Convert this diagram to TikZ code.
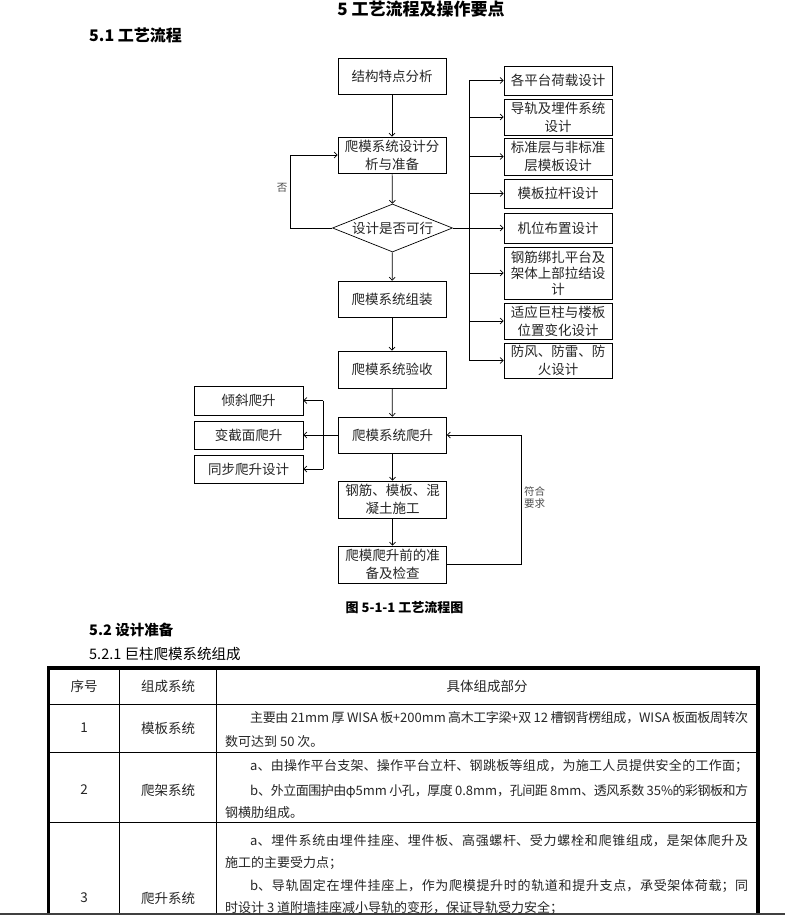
\documentclass[tikz,border=0pt]{standalone}
\usepackage{fontspec}
\setmainfont{Noto Sans CJK SC}
\usetikzlibrary{arrows.meta,shapes.geometric}
\XeTeXlinebreaklocale "zh"
\XeTeXlinebreakskip=0pt plus 4pt minus 0.8pt
\newcommand\fz[2]{\fontsize{#1}{#2}\selectfont}
\newcommand\jtext[2]{\vbox{\hsize=#1pt\parindent=0pt\parfillskip=0pt\leftskip=0pt\rightskip=0pt\tolerance=9999\emergencystretch=20pt #2\par}}
\begin{document}
\begin{tikzpicture}[x=1pt,y=-1pt,
  box/.style={draw, line width=0.7pt, inner sep=0pt, align=center, minimum width=108pt, text=black!85, font=\fz{13.5}{18}},
  arr/.style={-{Straight Barb[length=3pt,width=6pt]}, line width=0.7pt},
  ln/.style={line width=0.7pt},
  lab/.style={inner sep=0pt, text=black!70, font=\fz{10.5}{12}, align=left},
  head/.style={inner sep=0pt, text=black, anchor=west},
  cell/.style={inner sep=0pt, text=black!85, font=\fz{13.5}{16}},
  jl/.style={inner sep=0pt, text=black!85, font=\fz{13}{16}, anchor=west},
  thick border/.style={line width=3.5pt},
  thin rule/.style={line width=0.8pt}]
\fill[white] (0,0) rectangle (785,917);
\useasboundingbox (0,0) rectangle (785,917);

% headings
\node[inner sep=0pt, font=\fz{17}{19}\bfseries] (title) at (421,9) {5\ 工艺流程及操作要点};
\node[head, font=\fz{16}{18}\bfseries] (h51) at (89,35) {5.1 工艺流程};

% main column
\node[box, minimum height=36pt] (n1) at (392,76) {结构特点分析};
\node[box, minimum height=36pt] (n2) at (392,155) {爬模系统设计分\\析与准备};
\node[box, shape=diamond, aspect=2.5, minimum width=120pt, minimum height=48pt] (d) at (392.5,228) {设计是否可行};
\node[box, minimum height=36pt] (n3) at (392,299) {爬模系统组装};
\node[box, minimum height=37pt] (n4) at (392,369.5) {爬模系统验收};
\node[box, minimum height=36pt] (n5) at (392.5,435) {爬模系统爬升};
\node[box, minimum height=37pt] (n6) at (392.5,499.5) {钢筋、模板、混\\凝土施工};
\node[box, minimum height=37pt] (n7) at (392.5,564.5) {爬模爬升前的准\\备及检查};

% right column
\node[box, minimum height=29pt] (r1) at (558,80.5) {各平台荷载设计};
\node[box, minimum height=36pt] (r2) at (558,117) {导轨及埋件系统\\设计};
\node[box, minimum height=37pt] (r3) at (558,156.5) {标准层与非标准\\层模板设计};
\node[box, minimum height=29pt] (r4) at (558,193.5) {模板拉杆设计};
\node[box, minimum height=30pt] (r5) at (558,228) {机位布置设计};
\node[box, minimum height=52pt, font=\fz{13.5}{16}] (r6) at (558,273) {钢筋绑扎平台及\\架体上部拉结设\\计};
\node[box, minimum height=36pt] (r7) at (558,321) {适应巨柱与楼板\\位置变化设计};
\node[box, minimum height=35pt] (r8) at (558,360.5) {防风、防雷、防\\火设计};

% left column
\node[box, minimum width=109pt, minimum height=29pt] (l1) at (248.5,400.5) {倾斜爬升};
\node[box, minimum width=109pt, minimum height=28pt] (l2) at (248.5,435) {变截面爬升};
\node[box, minimum width=109pt, minimum height=28pt] (l3) at (248.5,469) {同步爬升设计};

% helper coordinates
\coordinate (rt) at (469,0);
\coordinate (lt) at (323,0);
\coordinate (no) at (290,0);
\coordinate (ok) at (521,0);

% main arrows
\draw[arr] (n1) -- (n2);
\draw[arr] (n2) -- (d);
\draw[arr] (d) -- (n3);
\draw[arr] (n3) -- (n4);
\draw[arr] (n4) -- (n5);
\draw[arr] (n5) -- (n6);
\draw[arr] (n6) -- (n7);

% no loop
\draw[arr] (d.west) -- (d.west -| no) -- (n2.west -| no) -- (n2.west);
\node[lab] (nolab) at (282,188) {否};

% right trunk
\draw[ln] (r1.west -| rt) -- (r8.west -| rt);
\draw[arr] (d.east) -- (r5.west);
\foreach \r in {r1,r2,r3,r4,r6,r7,r8} {\draw[arr] (\r.west -| rt) -- (\r.west);}

% left branch
\draw[arr] (n5.west) -- (l2.east);
\draw[ln] (l1.east -| lt) -- (l3.east -| lt);
\draw[arr] (l1.east -| lt) -- (l1.east);
\draw[arr] (l3.east -| lt) -- (l3.east);

% ok loop
\draw[arr] (n7.east) -- (n7.east -| ok) -- (n5.east -| ok) -- (n5.east);
\node[lab, anchor=west] (oklab) at (524,497) {符合\\要求};

% caption and headings
\node[inner sep=0pt, font=\fz{13}{15}\bfseries] (cap) at (404.5,608) {图 5-1-1 工艺流程图};
\node[head, font=\fz{14.5}{16}\bfseries] (h52) at (89,630) {5.2 设计准备};
\node[head, font=\fz{14.5}{16}] (h521) at (89,654) {5.2.1 巨柱爬模系统组成};

% table rules
\draw[thin rule] (48.5,704) -- (758,704);
\draw[thin rule] (48.5,752) -- (758,752);
\draw[thin rule] (48.5,822) -- (758,822);
\draw[thin rule] (119.5,668) -- (119.5,913);
\draw[thin rule] (216.5,668) -- (216.5,913);
\draw[thick border] (48.5,913) -- (48.5,668) -- (758,668) -- (758,913);
\draw[line width=1.5pt, black!75] (0,914) -- (785,914);

% header
\node[cell] (c00) at (84,686) {序号};
\node[cell] (c01) at (168,686) {组成系统};
\node[cell] (c02) at (487,686) {具体组成部分};

% row 1
\node[cell] (c10) at (84,728) {1};
\node[cell] (c11) at (168,728) {模板系统};
\node[jl] (t11) at (250,718) {\jtext{498}{主要由 21mm 厚 WISA 板+200mm 高木工字梁+双 12 槽钢背楞组成，WISA 板面板周转次}};
\node[jl] (t12) at (225,742) {数可达到 50 次。};

% row 2
\node[cell] (c20) at (84,790) {2};
\node[cell] (c21) at (168,790) {爬架系统};
\node[jl] (t21) at (250,766) {\jtext{498}{a、由操作平台支架、操作平台立杆、钢跳板等组成，为施工人员提供安全的工作面；}};
\node[jl] (t22) at (250,791) {\jtext{498}{b、外立面围护由φ5mm 小孔，厚度 0.8mm，孔间距 8mm、透风系数 35\%的彩钢板和方}};
\node[jl] (t23) at (225,813) {钢横肋组成。};

% row 3
\node[cell] (c30) at (84,898) {3};
\node[cell] (c31) at (168,898) {爬升系统};
\node[jl] (t31) at (250,841) {\jtext{498}{a、埋件系统由埋件挂座、埋件板、高强螺杆、受力螺栓和爬锥组成，是架体爬升及}};
\node[jl] (t32) at (225,863) {施工的主要受力点；};
\node[jl] (t33) at (250,886) {\jtext{498}{b、导轨固定在埋件挂座上，作为爬模提升时的轨道和提升支点，承受架体荷载；同}};
\node[jl] (t34) at (225,908) {时设计 3 道附墙挂座减小导轨的变形，保证导轨受力安全；};
\end{tikzpicture}
\end{document}
